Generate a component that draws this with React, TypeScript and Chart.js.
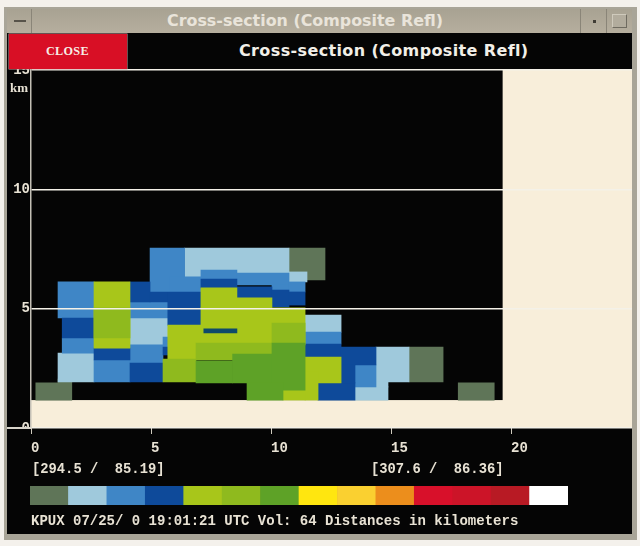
import React, { useEffect, useRef } from "react";
import { Chart, registerables } from "chart.js";

Chart.register(...registerables);

// ---------- data (km along section, km height): [xStart, xEnd, yBottom, yTop] ----------
const grayCells = [
  [0.2, 1.7, 1.17, 1.89], [1.125, 1.7, 1.89, 2.05], [10.75, 12.25, 6.2, 7.54],
  [15.75, 17.17, 1.93, 3.39], [17.8, 19.3, 1.17, 1.89],
];
const lightBlueCells = [
  [1.125, 2.625, 1.93, 3.14], [4.125, 5.7, 3.48, 4.61], [6.4, 10.75, 6.49, 7.54],
  [6.4, 7.08, 6.33, 6.49], [10.75, 11.5, 6.12, 6.54], [11.42, 12.92, 4.02, 4.73],
  [14.375, 15.75, 1.93, 3.39], [13.5, 14.875, 1.17, 1.72], [14.375, 14.875, 1.72, 1.93],
];
const midBlueCells = [
  [1.125, 2.625, 4.61, 6.12], [1.3, 2.625, 3.14, 3.77], [2.625, 4.125, 1.93, 2.85],
  [4.125, 5.7, 4.61, 5.28], [4.125, 5.5, 2.72, 3.48], [5.5, 5.7, 3.39, 3.81],
  [4.96, 6.4, 5.7, 7.54], [5.8, 7.08, 5.66, 6.33], [7.08, 8.58, 6.24, 6.62],
  [8.58, 10.75, 5.99, 6.49], [10.04, 10.75, 5.78, 5.99], [10.75, 11.42, 5.7, 6.12],
  [11.42, 12.92, 3.52, 4.02], [13.5, 14.375, 1.72, 2.64],
];
const darkBlueCells = [
  [1.3, 2.625, 3.77, 4.61], [2.625, 4.125, 2.85, 3.35], [4.125, 5.5, 1.93, 2.72],
  [5.5, 5.7, 3.06, 3.39], [4.125, 4.96, 5.28, 6.12], [4.96, 7.08, 5.28, 5.7],
  [5.7, 7.08, 4.31, 5.66], [7.08, 8.58, 5.87, 6.24], [8.58, 10.04, 5.45, 5.91],
  [10.04, 10.75, 5.07, 5.78], [10.75, 11.42, 5.15, 5.7], [11.42, 12.92, 2.97, 3.52],
  [11.96, 13.5, 1.17, 1.89], [12.92, 14.375, 2.64, 3.39], [12.92, 13.5, 1.89, 2.64],
];
const brightGreenCells = [
  [2.625, 4.125, 3.35, 6.12], [5.7, 7.08, 2.89, 4.31], [7.08, 11.42, 3.48, 5.03],
  [7.08, 8.58, 5.03, 5.87], [8.58, 10.04, 5.03, 5.45], [11.42, 12.92, 1.89, 2.97],
  [11.42, 11.96, 1.17, 2.35], [10.5, 11.42, 1.17, 1.59],
];
const oliveGreenCells = [
  [2.625, 4.125, 3.77, 5.03], [5.5, 6.875, 1.93, 2.89], [6.875, 10.04, 2.85, 3.56],
  [10.04, 11.42, 3.56, 4.4],
];
const deepGreenCells = [
  [6.875, 8.4, 1.89, 2.81], [8.4, 10.04, 1.89, 3.1], [10.04, 11.42, 1.59, 3.56],
  [9, 10.5, 1.17, 1.89],
];
const streakCells = [[7.2, 8.58, 3.98, 4.15]];

const xTickValues = [0, 5, 10, 15, 20];
const yTickValues = [0, 5, 10, 15];
const legendColors = [
  "#5f7558", "#9fc9dc", "#3f86c6", "#0e4a9a", "#a8c61a", "#8fba1e", "#5ea227",
  "#ffe60f", "#fad030", "#ec8e1c", "#d8102a", "#cc1428", "#b81a24", "#ffffff",
];
const legendLevels = legendColors.map((_, i) => `L${i + 1}`);
const legendValues = legendColors.map(() => 1);

const GROUND_TOP_KM = 1.17;
const RANGE_END_KM = 19.65;
const KM_TO_PX = 24;

const layers: [number[][], string][] = [
  [grayCells, "#5f7558"],
  [lightBlueCells, "#9fc9dc"],
  [midBlueCells, "#3f86c6"],
  [darkBlueCells, "#0e4a9a"],
  [brightGreenCells, "#a8c61a"],
  [oliveGreenCells, "#8fba1e"],
  [deepGreenCells, "#5ea227"],
  [streakCells, "#0e4a6a"],
];

const mono = "'Liberation Mono', monospace";
const textCol = "#e8e2d4";

const backdrop = {
  id: "backdrop",
  beforeDraw(chart: any) {
    const { ctx, chartArea: a, scales } = chart;
    const gx = scales.x.getPixelForValue(RANGE_END_KM);
    const gy = scales.y.getPixelForValue(GROUND_TOP_KM);
    ctx.save();
    ctx.fillStyle = "#f8eeda";
    ctx.fillRect(a.left, a.top, a.right - a.left, a.bottom - a.top);
    ctx.fillStyle = "#050505";
    ctx.fillRect(a.left, a.top, gx - a.left, gy - a.top);
    ctx.restore();
  },
};

const box = (l: number, t: number, w: number, h: number, bg: string, extra: any = {}): any => ({
  position: "absolute", left: l, top: t, width: w, height: h, background: bg, ...extra,
});
const label = (l: number, t: number, fs: number, extra: any = {}): any => ({
  position: "absolute", left: l, top: t, fontFamily: mono, fontSize: fs, fontWeight: 700,
  color: textCol, whiteSpace: "pre", lineHeight: "16px", ...extra,
});

export default function App() {
  const mainRef = useRef<HTMLCanvasElement>(null);
  const legendRef = useRef<HTMLCanvasElement>(null);

  useEffect(() => {
    const datasets: any[] = [];
    layers.forEach(([cells, color]) => {
      cells.forEach(([x0, x1, y0, y1]) => {
        // Chart.js paints the first dataset last, so later layers go to the front of the list.
        datasets.unshift({
          data: [{ x: (x0 + x1) / 2, y: [y0, y1] }],
          backgroundColor: color,
          borderColor: color,
          borderWidth: 0,
          barThickness: (x1 - x0) * KM_TO_PX,
          grouped: false,
        });
      });
    });
    const main = new Chart(mainRef.current!, {
      type: "bar",
      data: { datasets },
      plugins: [backdrop],
      options: {
        animation: false,
        responsive: false,
        layout: { padding: { top: 70, right: 8, left: 0, bottom: 0 } },
        plugins: { legend: { display: false }, tooltip: { enabled: false } },
        scales: {
          x: {
            type: "linear", min: 0, max: 25.04, offset: false,
            afterFit: (s: any) => { s.height = 118; },
            afterBuildTicks: (s: any) => { s.ticks = xTickValues.map((value) => ({ value })); },
            grid: { offset: false, drawOnChartArea: false, drawTicks: true, tickLength: 6, color: "#cfcabd", lineWidth: 1 },
            border: { display: false },
            ticks: {
              align: "start", padding: 6, color: textCol, maxRotation: 0, autoSkip: false,
              font: { family: mono, size: 14, weight: "bold" },
            },
          },
          y: {
            type: "linear", min: 0, max: 15,
            afterFit: (s: any) => { s.width = 31; },
            afterBuildTicks: (s: any) => { s.ticks = yTickValues.map((value) => ({ value })); },
            grid: { drawTicks: false, color: "#f4f1e8", lineWidth: 1.5, z: 1 },
            border: { display: true, color: "#c4c0b6", width: 1.5, z: 1 },
            ticks: {
              padding: 1, color: textCol,
              font: { family: mono, size: 14, weight: "bold" },
            },
          },
        },
      } as any,
    });
    const legend = new Chart(legendRef.current!, {
      type: "bar",
      data: {
        labels: legendLevels,
        datasets: [{ data: legendValues, backgroundColor: legendColors, barPercentage: 1, categoryPercentage: 1 }],
      },
      options: {
        animation: false,
        responsive: false,
        plugins: { legend: { display: false }, tooltip: { enabled: false } },
        scales: { x: { display: false }, y: { display: false, min: 0, max: 1 } },
      } as any,
    });
    return () => { main.destroy(); legend.destroy(); };
  }, []);

  return (
    <div style={{ position: "fixed", left: 0, top: 0, width: 640, height: 546, background: "#f4f1ec", overflow: "hidden", filter: "blur(0.5px)" }}>
      {/* window frame */}
      <div style={box(4, 7, 633, 533, "#a9a598")} />
      <div style={box(7, 33, 625, 37, "#050505")} />
      <div style={box(7, 70, 24, 358, "#050505")} />
      <div style={box(7, 428, 625, 106, "#050505")} />

      <canvas ref={mainRef} width={640} height={546} style={{ position: "absolute", left: 0, top: 0, width: 640, height: 546 }} />

      {/* covers that crop the clipped axis labels, as in the source window */}
      <div style={box(7, 429, 24, 10, "#050505")} />
      <div style={box(7, 427, 24, 1.5, "#d8d4ca")} />
      <div style={box(7, 33, 625, 35.5, "#050505")} />

      {/* title bar */}
      <div style={box(7, 9, 625, 24, "linear-gradient(#a8a292,#b6ae9e)")} />
      <div style={box(31, 9, 1, 24, "#8a8578")} />
      <div style={box(14, 20, 12, 2, "#57534a")} />
      <div style={box(580, 9, 1, 24, "#8a8578")} />
      <div style={box(606, 9, 1, 24, "#8a8578")} />
      <div style={box(593, 20, 3, 3, "#3f3c35")} />
      <div style={box(612, 14, 15, 14, "#b2ac9d", { borderRight: "1px solid #6f6b60", borderBottom: "1px solid #6f6b60", borderTop: "1px solid #cfcabc", borderLeft: "1px solid #cfcabc", boxSizing: "border-box" })} />
      <div style={{ position: "absolute", left: 167, top: 12, fontFamily: "'DejaVu Sans', sans-serif", fontSize: 15.9, fontWeight: 700, color: "#e9e4da", whiteSpace: "pre", lineHeight: "18px" }}>Cross-section (Composite Refl)</div>

      {/* header row */}
      <div style={box(9, 34, 118, 35, "#d80f25", { boxShadow: "0 0 0 0.5px #c9a0a0" })} />
      <div style={{ position: "absolute", left: 46, top: 43, fontFamily: "'Liberation Serif', serif", fontSize: 12.2, fontWeight: 700, color: "#f6eee6", whiteSpace: "pre", lineHeight: "16px", letterSpacing: 0.3 }}>CLOSE</div>
      <div style={{ position: "absolute", left: 239, top: 42, fontFamily: "'DejaVu Sans', sans-serif", fontSize: 16, fontWeight: 700, letterSpacing: 0.37, color: "#f2efe8", whiteSpace: "pre", lineHeight: "18px" }}>Cross-section (Composite Refl)</div>

      {/* axis unit and readouts */}
      <div style={label(10, 80, 13, { fontFamily: "'Liberation Serif', serif" })}>km</div>
      <div style={label(32, 462, 13.8)}>{"[294.5 /  85.19]"}</div>
      <div style={label(371, 462, 13.8)}>{"[307.6 /  86.36]"}</div>

      <canvas ref={legendRef} width={538} height={19} style={{ position: "absolute", left: 30, top: 486, width: 538, height: 19 }} />

      <div style={label(31, 513, 14)}>KPUX 07/25/ 0 19:01:21 UTC Vol: 64 Distances in kilometers</div>
    </div>
  );
}
